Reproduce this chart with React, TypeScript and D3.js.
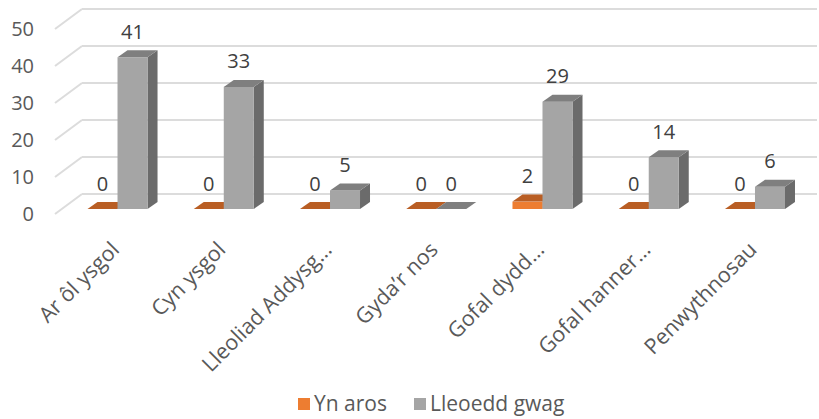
import React, { useEffect, useRef } from 'react';
import * as d3 from 'd3';

const categories = ['Ar ôl ysgol', 'Cyn ysgol', 'Lleoliad Addysg…', 'Gyda’r nos', 'Gofal dydd…', 'Gofal hanner…', 'Penwythnosau'];
const seriesNames = ['Yn aros', 'Lleoedd gwag'];
const ynAros = [0, 0, 0, 0, 2, 0, 0];
const lleoeddGwag = [41, 33, 5, 0, 29, 14, 6];
const yTicks = [0, 10, 20, 30, 40, 50];

// front / top / side shades per series
const shades = [
  { front: '#ED7D31', top: '#B95E24', side: '#A3521D' },
  { front: '#A5A5A5', top: '#7F7F7F', side: '#6B6B6B' },
];

export default function App() {
  const ref = useRef<HTMLDivElement>(null);

  useEffect(() => {
    if (!ref.current) return;
    d3.select(ref.current).selectAll('*').remove();

    const width = 819;
    const height = 419;
    const font = "'Open Sans', 'DejaVu Sans', sans-serif";

    const svg = d3.select(ref.current)
      .append('svg')
      .attr('width', width)
      .attr('height', height)
      .style('display', 'block')
      .style('font-family', font);

    // back wall value scale
    const y = d3.scaleLinear().domain([0, 50]).range([194, 9]);
    const wallLeft = 82;
    const wallRight = 817;
    const wallDx = 27;
    const wallDy = 20;

    const grid = svg.append('g');
    yTicks.forEach(t => {
      grid.append('line')
        .attr('x1', wallLeft).attr('x2', wallRight)
        .attr('y1', y(t)).attr('y2', y(t))
        .attr('stroke', '#dcdcdc').attr('stroke-width', 2);
      grid.append('line')
        .attr('x1', wallLeft - wallDx).attr('y1', y(t) + wallDy)
        .attr('x2', wallLeft).attr('y2', y(t))
        .attr('stroke', '#dcdcdc').attr('stroke-width', 2);
      grid.append('text')
        .attr('x', 34)
        .attr('y', y(t) + wallDy)
        .attr('dy', '0.36em')
        .attr('text-anchor', 'end')
        .attr('font-size', 20)
        .attr('fill', '#595959')
        .text(t);
    });

    const x = d3.scaleBand<string>().domain(categories).range([64.4, 808.1]);
    const sub = d3.scaleBand<string>().domain(seriesNames).range([0, x.bandwidth()])
      .paddingInner(0).paddingOuter(0.77);

    // bars sit a bit in front of the back wall
    const yFront = (v: number) => y(v) + 15;
    const dx = 10;
    const dy = -7;
    const base = yFront(0);

    const bars = svg.append('g');
    const seriesData = [ynAros, lleoeddGwag];
    categories.forEach((c, i) => {
      seriesNames.forEach((s, k) => {
        const v = seriesData[k][i];
        const x0 = x(c)! + sub(s)!;
        const w = sub.bandwidth();
        const top = yFront(v);
        const col = shades[k];
        if (v > 0) {
          bars.append('polygon')
            .attr('points', [[x0 + w, top], [x0 + w + dx, top + dy], [x0 + w + dx, base + dy], [x0 + w, base]].map(p => p.join(',')).join(' '))
            .attr('fill', col.side);
          bars.append('rect')
            .attr('x', x0).attr('y', top)
            .attr('width', w).attr('height', base - top)
            .attr('fill', col.front);
        }
        bars.append('polygon')
          .attr('points', [[x0, top], [x0 + dx, top + dy], [x0 + w + dx, top + dy], [x0 + w, top]].map(p => p.join(',')).join(' '))
          .attr('fill', col.top);
      });
    });

    // data labels
    const labels = svg.append('g');
    categories.forEach((c, i) => {
      seriesNames.forEach((s, k) => {
        const v = seriesData[k][i];
        labels.append('text')
          .attr('x', x(c)! + sub(s)! + sub.bandwidth() / 2)
          .attr('y', yFront(v) - 18.5)
          .attr('text-anchor', 'middle')
          .attr('font-size', 20)
          .attr('fill', '#404040')
          .text(v);
      });
    });

    // category labels
    const xl = svg.append('g');
    categories.forEach(c => {
      const cx = x(c)! + x.bandwidth() / 2 + 3;
      const cy = 251;
      xl.append('text')
        .attr('transform', `translate(${cx},${cy}) rotate(-45)`)
        .attr('text-anchor', 'end')
        .attr('font-size', 21.5)
        .attr('fill', '#595959')
        .text(c);
    });

    // legend
    const legend = svg.append('g');
    const items = [
      { name: seriesNames[0], color: shades[0].front, x: 298 },
      { name: seriesNames[1], color: shades[1].front, x: 414 },
    ];
    items.forEach(it => {
      legend.append('rect')
        .attr('x', it.x).attr('y', 398)
        .attr('width', 12).attr('height', 12)
        .attr('fill', it.color);
      legend.append('text')
        .attr('x', it.x + 16).attr('y', 411)
        .attr('font-size', 21)
        .attr('fill', '#595959')
        .text(it.name);
    });
  }, []);

  return (
    <div style={{ position: 'fixed', left: 0, top: 0, width: 819, height: 419, background: '#fff' }} ref={ref}></div>
  );
}
